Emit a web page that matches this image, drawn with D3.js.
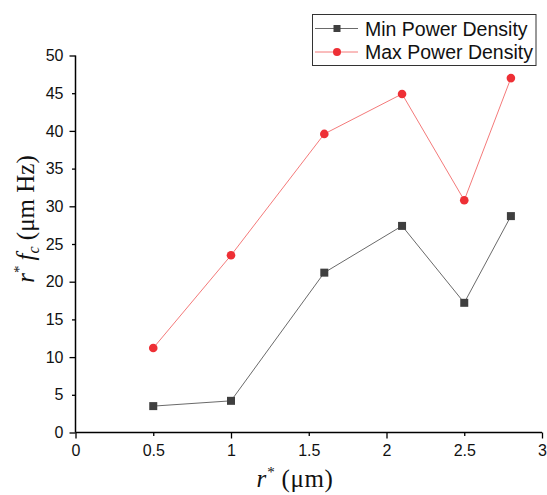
<!DOCTYPE html>
<html>
<head>
<meta charset="utf-8">
<script src="https://cdn.jsdelivr.net/npm/d3@7"></script>
<style>
  html, body { margin: 0; padding: 0; background: #fff; }
  svg { display: block; }
  .tick text { font-family: "Liberation Sans", Arial, sans-serif; }
  .title { font-family: "Liberation Serif", "DejaVu Serif", serif; }
</style>
</head>
<body>
<div id="chart"></div>
<script>
// r* values (µm)
const rStar = [0.5, 1, 1.6, 2.1, 2.5, 2.8];
// r* fc values (µm Hz)
const minPower = [3.5, 4.2, 21.2, 27.4, 17.2, 28.7];
const maxPower = [11.2, 23.5, 39.6, 44.9, 30.8, 47.0];
const seriesNames = ['Min Power Density', 'Max Power Density'];
const xTicks = [0, 0.5, 1, 1.5, 2, 2.5, 3];
const yTicks = [0, 5, 10, 15, 20, 25, 30, 35, 40, 45, 50];

const width = 547, height = 495;
const plotLeft = 75.5, plotRight = 542, plotTop = 55.5, plotBottom = 432.5;

const svg = d3.select('#chart').append('svg')
  .attr('width', width)
  .attr('height', height);

const x = d3.scaleLinear().domain([0, 3]).range([plotLeft, plotRight]);
const y = d3.scaleLinear().domain([0, 50]).range([plotBottom, plotTop]);

// axes
const xAxis = svg.append('g')
  .attr('transform', `translate(0,${plotBottom})`)
  .call(d3.axisBottom(x).tickValues(xTicks).tickSize(6).tickPadding(6)
    .tickFormat(d3.format('')));
const yAxis = svg.append('g')
  .attr('transform', `translate(${plotLeft},0)`)
  .call(d3.axisLeft(y).tickValues(yTicks).tickSize(6).tickPadding(6));

[xAxis, yAxis].forEach(g => {
  g.select('.domain').attr('stroke', '#000').attr('stroke-width', 1.5);
  g.selectAll('.tick line').attr('stroke', '#000').attr('stroke-width', 1.3);
  g.selectAll('.tick text').attr('font-size', 16).attr('fill', '#111');
});
// minor ticks are shorter
xAxis.selectAll('.tick').filter(d => d % 1 !== 0).select('line').attr('y2', 3.5);
yAxis.selectAll('.tick').filter(d => d % 10 !== 0).select('line').attr('x2', -3.5);
xAxis.selectAll('.domain').attr('d', `M${plotLeft},0H${plotRight}`);
yAxis.selectAll('.domain').attr('d', `M0,${plotBottom}V${plotTop}`);

// lines
const line = d3.line().x((d, i) => x(rStar[i])).y(d => y(d));

svg.append('path').datum(minPower)
  .attr('d', line).attr('fill', 'none')
  .attr('stroke', '#6a6a6a').attr('stroke-width', 1);
svg.append('path').datum(maxPower)
  .attr('d', line).attr('fill', 'none')
  .attr('stroke', '#f47a7a').attr('stroke-width', 1);

svg.selectAll('.sq').data(minPower).enter().append('rect')
  .attr('x', (d, i) => x(rStar[i]) - 4)
  .attr('y', d => y(d) - 4)
  .attr('width', 8).attr('height', 8)
  .attr('fill', '#3f3f3f');
svg.selectAll('.dot').data(maxPower).enter().append('circle')
  .attr('cx', (d, i) => x(rStar[i]))
  .attr('cy', d => y(d))
  .attr('r', 4.3)
  .attr('fill', '#ee2f35');

// axis titles
const xt = svg.append('text').attr('class', 'title')
  .attr('x', 295).attr('y', 487).attr('text-anchor', 'middle')
  .attr('font-size', 25).attr('fill', '#111');
xt.append('tspan').attr('font-style', 'italic').text('r');
xt.append('tspan').attr('font-size', 15).attr('dx', 1).attr('dy', -10).text('*');
xt.append('tspan').attr('dy', 10).attr('letter-spacing', 0.6).text(' (\u03bcm)');

const yt = svg.append('text').attr('class', 'title')
  .attr('transform', 'translate(34,219) rotate(-90)')
  .attr('text-anchor', 'middle')
  .attr('font-size', 25).attr('fill', '#111');
yt.append('tspan').attr('font-style', 'italic').text('r');
yt.append('tspan').attr('font-size', 15).attr('dy', -10).text('*');
yt.append('tspan').attr('dy', 10).attr('font-style', 'italic').text('\u2009f');
yt.append('tspan').attr('font-size', 16).attr('font-style', 'italic').attr('dy', 5).text('c');
yt.append('tspan').attr('dy', -5).text(' (\u03bcm Hz)');

// legend
const lg = svg.append('g');
lg.append('rect')
  .attr('x', 312.5).attr('y', 14.5).attr('width', 223.5).attr('height', 51)
  .attr('fill', '#fff').attr('stroke', '#333').attr('stroke-width', 1);
const rows = [
  { name: seriesNames[0], color: '#6a6a6a', mark: '#3f3f3f', shape: 'sq', cy: 28.5 },
  { name: seriesNames[1], color: '#f47a7a', mark: '#ee2f35', shape: 'dot', cy: 52 }
];
rows.forEach(r => {
  lg.append('line').attr('x1', 315).attr('x2', 358)
    .attr('y1', r.cy).attr('y2', r.cy)
    .attr('stroke', r.color).attr('stroke-width', 1);
  if (r.shape === 'sq') {
    lg.append('rect').attr('x', 333.5).attr('y', r.cy - 3.5)
      .attr('width', 7).attr('height', 7).attr('fill', r.mark);
  } else {
    lg.append('circle').attr('cx', 337).attr('cy', r.cy).attr('r', 4).attr('fill', r.mark);
  }
  lg.append('text').attr('x', 365).attr('y', r.cy + 7)
    .attr('font-family', '"Liberation Sans", Arial, sans-serif')
    .attr('font-size', 19.5).attr('fill', '#111')
    .text(r.name);
});
</script>
</body>
</html>
